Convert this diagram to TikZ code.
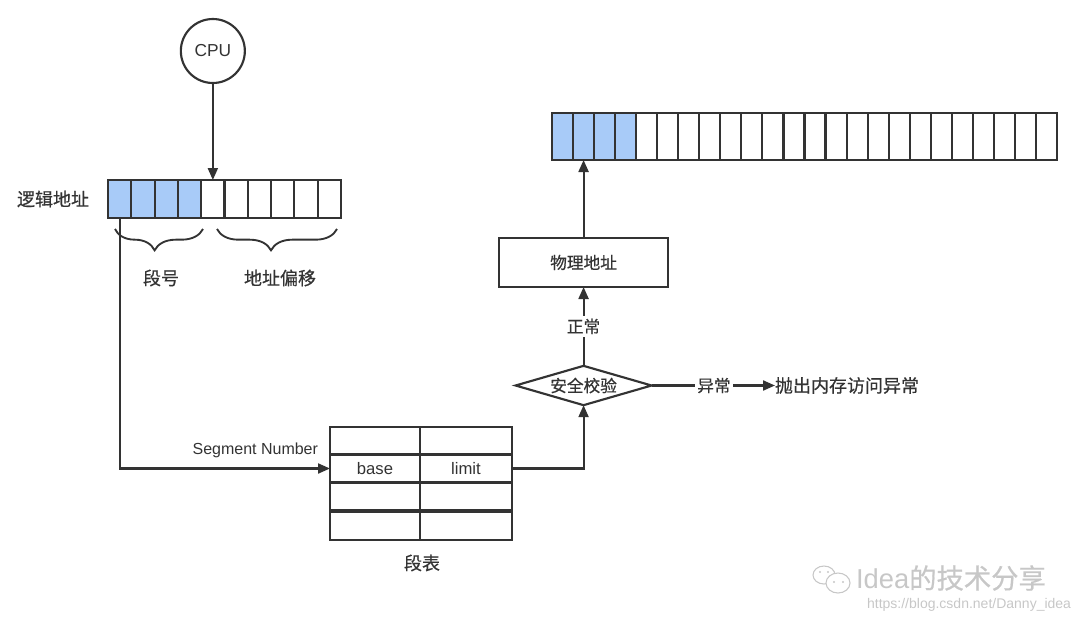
\documentclass[tikz,border=0pt]{standalone}
\usepackage{fontspec}
\setmainfont{Liberation Sans}
\newfontfamily\cjk[FakeBold=0.6]{Noto Sans CJK SC}
\usetikzlibrary{shapes.geometric,arrows.meta,decorations.pathreplacing}
\definecolor{ln}{HTML}{333333}
\definecolor{bl}{HTML}{A8CBF8}
\tikzset{
  every node/.style={inner sep=0pt,outer sep=0pt},
  ln/.style={draw=ln,line width=1.6pt},
  arr/.style={ln,-{Triangle[length=9pt,width=7.5pt]}},
  lcell/.style={ln,fill=white,minimum width=17.475pt,minimum height=28.5pt},
  mcell/.style={ln,fill=white,minimum width=15.78pt,minimum height=35.25pt},
  tcellA/.style={ln,minimum width=67.5pt,minimum height=21pt,font=\fontsize{12.5}{14}\selectfont},
  tcellB/.style={ln,minimum width=69pt,minimum height=21pt,font=\fontsize{12.5}{14}\selectfont},
  lbl/.style={text=ln,font=\cjk\fontsize{13.5}{15}\selectfont},
  lbls/.style={text=ln,font=\cjk\fontsize{12.5}{14}\selectfont},
  brc/.style={ln,line width=1.4pt,decorate,decoration={brace,mirror,amplitude=16pt,aspect=0.45}},
  wm/.style={text=black!22}
}
\begin{document}
\begin{tikzpicture}[x=0.75pt,y=-0.75pt]
\useasboundingbox (0,0) rectangle (1080,625);
% logical address
\foreach \i in {1,...,10}{
  \node[lcell] (c\i) at ({108+23.3*(\i-0.5)},199) {};
}
\foreach \i in {1,...,4}{\node[lcell,fill=bl] at (c\i) {};}
\node[lbl,anchor=east] (la) at (89,199) {逻辑地址};
% CPU
\node[ln,circle,minimum size=48pt,font=\fontsize{13}{14}\selectfont,text=ln] (cpu) at (c5.center |- 0,51) {CPU};
\draw[arr] (cpu.south) -- (c5.north);
% braces
\coordinate (b1s) at (115,229);
\coordinate (b1e) at (203,229);
\coordinate (b2s) at (217,229);
\coordinate (b2e) at (337,229);
\draw[brc] (b1s) -- (b1e);
\draw[brc] (b2s) -- (b2e);
\node[lbl] (dh) at (161,278) {段号};
\node[lbl] (dzpy) at (280,278) {地址偏移};
% memory
\foreach \i in {1,...,24}{
  \node[mcell] (m\i) at ({552+21.04*(\i-0.5)},136.5) {};
}
\foreach \i in {1,...,4}{\node[mcell,fill=bl] at (m\i) {};}
% segment table
\node[tcellA] (t1a) at (375,441) {};
\node[tcellB] (t1b) at (466,441) {};
\node[tcellA,text=ln] (base) at (375,468.5) {base};
\node[tcellB,text=ln] (limit) at (466,468.5) {limit};
\node[tcellA] (t3a) at (375,496) {};
\node[tcellB] (t3b) at (466,496) {};
\node[tcellA] (t4a) at (375,526) {};
\node[tcellB] (t4b) at (466,526) {};
\node[lbl] (dbl) at (422,563) {段表};
% segment number connector
\draw[arr] (c1.south) |- (base.west);
\node[anchor=east,text=ln,font=\fontsize{12}{13}\selectfont] (sn) at (318,450) {Segment Number};
% physical address
\node[ln,minimum width=126.75pt,minimum height=36.75pt] (pa) at (m2.center |- 0,262.5) {};
\node[lbls] at (pa) {物理地址};
% check
\node[ln,diamond,fill=white,aspect=3.5,minimum width=102pt,minimum height=29.5pt,inner sep=0pt] (chk) at (m2.center |- 0,385.5) {};
\node[lbls] at (chk) {安全校验};
\draw[arr] (limit.east) -| (chk.south);
\draw[arr] (chk.north) -- (pa.south) node[pos=0.5,fill=white,inner sep=2pt,lbls] (zc) {正常};
\draw[arr] (pa.north) -- (m2.south);
% exception
\node[lbls,fill=white,inner sep=2pt] (yc) at (714,385.5) {异常};
\node[lbl,anchor=west] (throw) at (775,385.5) {抛出内存访问异常};
\draw[ln] (chk.east) -- (yc.west);
\draw[arr] (yc.east) -- (throw.west);
% watermark
\begin{scope}[draw=black!22,line width=0.8pt]
\draw (824,575) ellipse (11 and 9);
\draw[fill=white] (838,583) ellipse (12 and 10);
\fill[black!22] (820,572) circle (1.2) (828,572) circle (1.2) (834,582) circle (1.2) (843,582) circle (1.2);
\end{scope}
\node[wm,anchor=west,font=\fontsize{20.5}{22}\selectfont] (wm1) at (856,578) {Idea{\cjk 的技术分享}};
\node[wm,anchor=east,font=\fontsize{10.5}{12}\selectfont] (wm2) at (1071,605) {https://blog.csdn.net/Danny\_idea};
\end{tikzpicture}
\end{document}
